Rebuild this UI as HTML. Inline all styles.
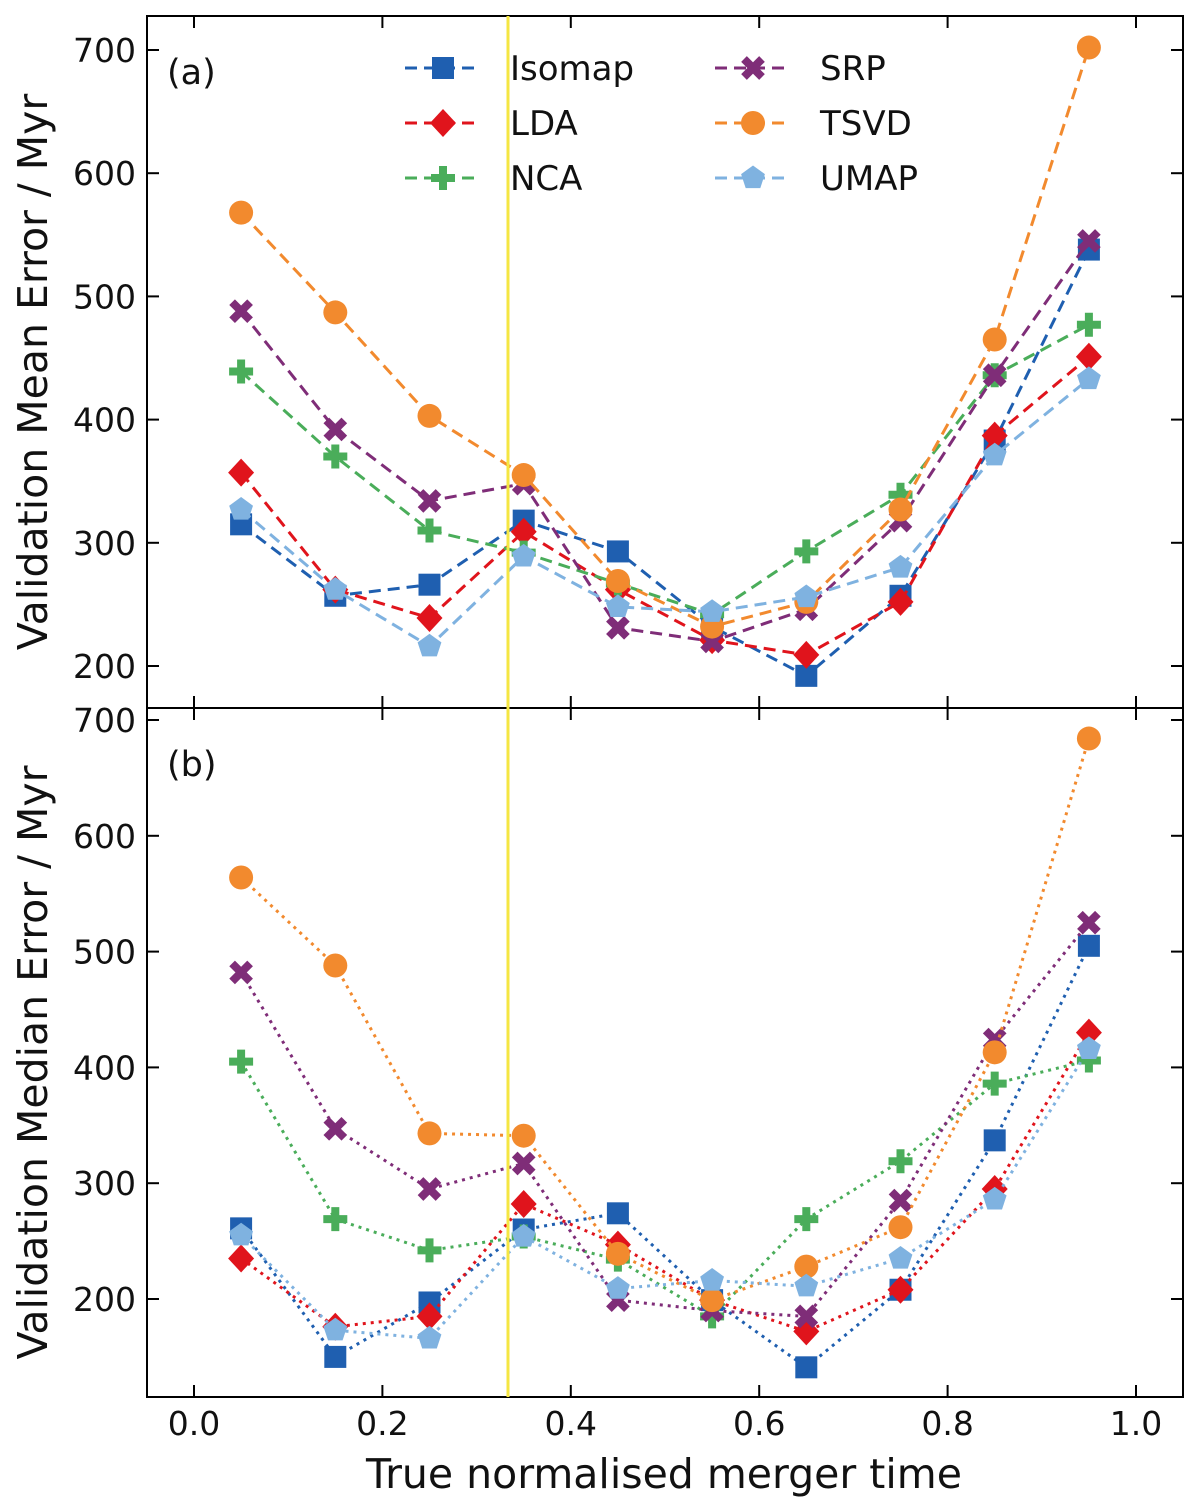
<!DOCTYPE html>
<html><head><meta charset="utf-8"><style>
html,body{margin:0;padding:0;background:#fff}
svg{display:block;font-family:"DejaVu Sans","Liberation Sans",sans-serif}
</style></head><body>
<svg id="chart" width="1200" height="1512" xmlns="http://www.w3.org/2000/svg"></svg>
<script>
const xVals=[0.05,0.15,0.25,0.35,0.45,0.55,0.65,0.75,0.85,0.95];
const seriesNames=["Isomap","LDA","NCA","SRP","TSVD","UMAP"];
const meanIsomap=[315,257,266,318,293,232,192,257,383,538];
const meanLDA=[357,262,239,309,262,221,209,252,387,451];
const meanNCA=[439,370,310,292,267,242,293,339,436,477];
const meanSRP=[488,392,334,348,231,220,246,318,436,545];
const meanTSVD=[568,487,403,355,269,232,252,327,465,702];
const meanUMAP=[327,262,216,289,248,244,256,280,371,433];
const medIsomap=[261,150,197,260,274,199,141,208,337,505];
const medLDA=[235,176,185,282,247,199,172,208,295,430];
const medNCA=[405,269,242,254,234,185,269,319,386,406];
const medSRP=[482,347,295,317,199,190,185,285,424,525];
const medTSVD=[564,488,343,341,239,199,228,262,413,684];
const medUMAP=[255,173,166,254,209,216,211,235,286,416];
const xTicks=[0,0.2,0.4,0.6,0.8,1.0];
const yTicks=[200,300,400,500,600,700];
const vLine=1/3;

const colors=["#1f5fb0","#e0141c","#4aad5a","#7f2d78","#f28a2e","#7fb2e0"];
const markers=["square","diamond","plus","x","circle","pentagon"];
const NS="http://www.w3.org/2000/svg";
const svg=document.getElementById('chart');
function el(t,a,p){const e=document.createElementNS(NS,t);for(const k in a)e.setAttribute(k,a[k]);(p||svg).appendChild(e);return e;}
const L=147,R=1183;
const xs=v=>194+v*942;
const panels=[
 {top:16,bot:708,ys:v=>50+(700-v)*1.232,data:[meanIsomap,meanLDA,meanNCA,meanSRP,meanTSVD,meanUMAP],dash:"12,7",label:"(a)",ylab:"Validation Mean Error / Myr",name:"mean"},
 {top:708,bot:1397,ys:v=>720+(700-v)*1.158,data:[medIsomap,medLDA,medNCA,medSRP,medTSVD,medUMAP],dash:"3,5",label:"(b)",ylab:"Validation Median Error / Myr",name:"median"}
];
function marker(g,type,x,y,c){
 let m;
 if(type==="square")m=el('rect',{x:x-11,y:y-11,width:22,height:22,fill:c},g);
 else if(type==="diamond")m=el('polygon',{points:`${x},${y-14} ${x+13},${y} ${x},${y+14} ${x-13},${y}`,fill:c},g);
 else if(type==="plus")m=el('path',{d:`M${x-12},${y}H${x+12}M${x},${y-12}V${y+12}`,stroke:c,'stroke-width':8},g);
 else if(type==="x")m=el('path',{d:`M${x-9},${y-9}L${x+9},${y+9}M${x+9},${y-9}L${x-9},${y+9}`,stroke:c,'stroke-width':8},g);
 else if(type==="circle")m=el('circle',{cx:x,cy:y,r:12,fill:c},g);
 else {let p=[];for(let i=0;i<5;i++){const a=-Math.PI/2+i*2*Math.PI/5;p.push((x+12.5*Math.cos(a)).toFixed(1)+","+(y+12.5*Math.sin(a)).toFixed(1));}m=el('polygon',{points:p.join(' '),fill:c},g);}
 return m;
}
panels.forEach((P,pi)=>{
 const g=el('g',{});
 
 
 P.data.forEach((arr,si)=>{
  const sg=el('g',{},g);
  
  
  el('polyline',{points:arr.map((v,i)=>xs(xVals[i])+","+P.ys(v)).join(' '),fill:'none',stroke:colors[si],'stroke-width':3,'stroke-dasharray':P.dash},sg);
  arr.forEach((v,i)=>{const m=marker(sg,markers[si],xs(xVals[i]),P.ys(v),colors[si]);
   
   });
 });
 const fr=el('rect',{x:L,y:P.top,width:R-L,height:P.bot-P.top,fill:'none',stroke:'#000','stroke-width':2},g);
 
 
 xTicks.forEach(t=>{const x=xs(t);el('line',{x1:x,x2:x,y1:P.bot,y2:P.bot-12,stroke:'#000','stroke-width':2},g);el('line',{x1:x,x2:x,y1:P.top,y2:P.top+12,stroke:'#000','stroke-width':2},g);
  if(pi===1){const tx=el('text',{x:x,y:1435,'font-size':33,'text-anchor':'middle',fill:'#111'},g);tx.textContent=t.toFixed(1);
   
   }});
 yTicks.forEach(t=>{const y=P.ys(t);el('line',{x1:L,x2:L+12,y1:y,y2:y,stroke:'#000','stroke-width':2},g);el('line',{x1:R,x2:R-12,y1:y,y2:y,stroke:'#000','stroke-width':2},g);
  const tx=el('text',{x:136,y:y+12,'font-size':33,'text-anchor':'end',fill:'#111'},g);tx.textContent=t;
  
  });
 const lb=el('text',{x:167,y:P.top+68,'font-size':35,fill:'#111'},g);lb.textContent=P.label;
 
 
 const cy=(P.top+P.bot)/2+10;
 const yl=el('text',{x:47,y:cy,'font-size':41,'text-anchor':'middle',fill:'#111',transform:`rotate(-90 47 ${cy})`},g);yl.textContent=P.ylab;
 
 
});
const vl=el('line',{x1:xs(vLine),x2:xs(vLine),y1:16,y2:1397,stroke:'#f5e642','stroke-width':3});


const xt=el('text',{x:664,y:1488,'font-size':41,'text-anchor':'middle',fill:'#111'});xt.textContent="True normalised merger time";


const lg=el('g',{});


seriesNames.forEach((n,i)=>{
 const col=Math.floor(i/3),row=i%3;const x0=col?715:405,y=68+row*55;
 const eg=el('g',{},lg);
 
 
 el('line',{x1:x0,x2:x0+75,y1:y,y2:y,stroke:colors[i],'stroke-width':3,'stroke-dasharray':'12,7'},eg);
 marker(eg,markers[i],x0+38,y,colors[i]);
 const t=el('text',{x:col?820:510,y:y+12,'font-size':34,fill:'#111'},eg);t.textContent=n;
});
</script>
</body></html>
